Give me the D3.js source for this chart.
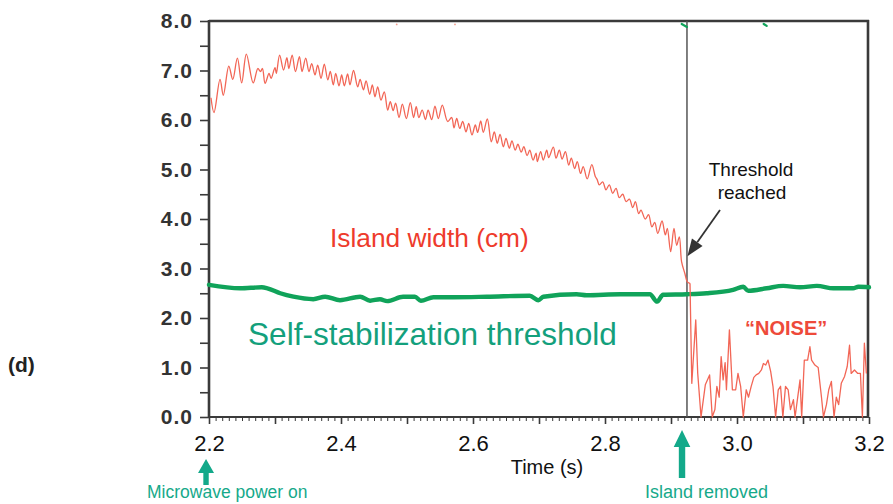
<!DOCTYPE html>
<html>
<head>
<meta charset="utf-8">
<script src="https://cdn.jsdelivr.net/npm/d3@7"></script>
<style>
  html, body { margin: 0; padding: 0; background: #fff; }
  svg { display: block; font-family: "Liberation Sans", Arial, Helvetica, sans-serif; }
</style>
</head>
<body>
<script>
// ---------- DATA ----------
// Island width (cm), oscillating part before the threshold is reached
const widthT = [2.203,2.2076,2.2167,2.2217,2.230,2.236,2.243,2.2495,2.2566,2.267,2.274,2.278,2.281,2.285,2.291,2.294,2.300,2.302,2.307,2.313,2.318,2.321,2.326,2.331,2.337,2.341,2.3465,2.3515,2.3556,2.3606,2.3647,2.3697,2.3747,2.380,2.3838,2.3883,2.392,2.397,2.401,2.405,2.410,2.4136,2.419,2.4253,2.429,2.434,2.438,2.4435,2.4475,2.4515,2.4556,2.4606,2.4656,2.4707,2.4747,2.479,2.4828,2.488,2.493,2.499,2.505,2.510,2.514,2.518,2.523,2.528,2.532,2.5374,2.5424,2.5475,2.5535,2.5616,2.5677,2.5712,2.5753,2.580,2.5844,2.5894,2.5935,2.5985,2.6035,2.607,2.6117,2.6156,2.6217,2.6277,2.6323,2.6368,2.641,2.646,2.650,2.655,2.659,2.664,2.668,2.673,2.677,2.682,2.686,2.691,2.6955,2.6975,2.7025,2.7065,2.7117,2.7147,2.7217,2.7258,2.7308,2.735,2.740,2.745,2.749,2.754,2.758,2.763,2.767,2.773,2.780,2.7853,2.788,2.7914,2.7965,2.8015,2.8065,2.8117,2.8167,2.8217,2.8268,2.832,2.837,2.842,2.846,2.851,2.8545,2.861,2.866,2.871,2.8753,2.880,2.8864,2.8914,2.8944,2.8995,2.9045,2.9086,2.9126,2.916,2.921,2.9247,2.9288];
const widthV = [6.45,6.15,6.82,6.50,7.09,6.82,7.25,6.75,7.33,6.75,7.04,6.98,7.04,6.74,6.94,6.84,7.06,6.94,7.31,7.01,7.26,7.04,7.31,6.98,7.28,6.98,7.25,6.98,7.14,6.91,7.11,6.84,7.13,6.81,6.98,6.71,6.94,6.69,6.91,6.69,6.93,6.71,7.00,6.67,6.82,6.61,6.79,6.52,6.71,6.47,6.67,6.40,6.57,6.20,6.37,6.19,6.34,6.05,6.32,6.03,6.35,6.05,6.27,6.05,6.20,6.01,6.20,6.01,6.28,6.03,6.30,5.97,6.05,5.84,6.03,5.83,5.97,5.76,5.93,5.70,5.90,5.75,5.98,5.75,6.02,5.56,5.76,5.53,5.71,5.46,5.63,5.43,5.58,5.39,5.51,5.35,5.46,5.28,5.39,5.19,5.33,5.16,5.36,5.19,5.39,5.24,5.45,5.23,5.39,5.21,5.36,5.09,5.23,5.02,5.16,4.92,5.06,4.81,5.10,4.86,4.80,4.69,4.75,4.59,4.69,4.52,4.62,4.43,4.50,4.35,4.40,4.23,4.35,4.11,4.18,4.00,4.09,3.84,3.93,3.71,3.96,3.68,3.81,3.34,3.81,3.47,3.64,3.14,2.90,2.73,2.70];

// "Noise" after the island is removed
const noiseT = [2.9288,2.9315,2.9375,2.9405,2.9455,2.952,2.9585,2.9625,2.9665,2.9695,2.973,2.976,2.979,2.982,2.984,2.9885,2.993,2.998,3.0015,3.0055,3.0095,3.014,3.0175,3.0215,3.0255,3.029,3.033,3.037,3.040,3.0435,3.047,3.051,3.0545,3.0585,3.0625,3.066,3.0695,3.0735,3.0775,3.081,3.0855,3.088,3.092,3.0955,3.098,3.102,3.107,3.1105,3.113,3.118,3.123,3.128,3.131,3.1355,3.139,3.143,3.147,3.1505,3.154,3.158,3.163,3.167,3.1705,3.173,3.178,3.183,3.187,3.190,3.193,3.196];
const noiseV = [2.70,0.68,1.96,0.88,0.0,0.65,0.85,0.0,0.15,0.62,0.40,1.22,0.75,1.10,0.55,1.76,0.55,0.55,0.88,0.62,0.0,0.55,0.40,0.62,0.80,0.85,0.88,0.95,1.08,1.05,1.15,0.92,0.62,0.0,0.55,0.62,0.0,0.62,0.55,0.15,0.35,0.0,0.40,0.75,0.0,1.15,1.15,1.42,1.15,1.05,1.00,0.40,0.0,0.25,0.55,0.72,0.0,0.40,0.25,0.68,0.82,1.02,1.45,0.88,0.95,0.88,0.88,0.0,1.49,0.88];

// Self-stabilization threshold (cm)
const threshT = [2.200,2.247,2.280,2.2885,2.308,2.328,2.358,2.376,2.3985,2.429,2.444,2.459,2.470,2.494,2.512,2.521,2.540,2.570,2.621,2.686,2.699,2.7065,2.757,2.772,2.823,2.868,2.879,2.888,2.924,2.954,2.994,3.0095,3.017,3.045,3.070,3.0955,3.121,3.146,3.176,3.184,3.200];
const threshV = [2.67,2.60,2.62,2.60,2.50,2.43,2.38,2.43,2.36,2.43,2.35,2.38,2.34,2.43,2.43,2.35,2.42,2.42,2.43,2.45,2.36,2.43,2.48,2.46,2.48,2.48,2.33,2.47,2.48,2.50,2.57,2.63,2.55,2.60,2.65,2.62,2.65,2.60,2.60,2.63,2.62];

// small stray specks at the top of the frame
const greenSpecksT = [[2.9162,2.9242],[3.0405,3.045]];
const greenSpecksV = [[7.94,7.88],[7.94,7.90]];
const redSpecksT = [2.4844,2.5727];
const redSpecksV = [7.93,7.93];

// events
const removalTime = 2.9242;
const yTickValues = [0,0.5,1,1.5,2,2.5,3,3.5,4,4.5,5,5.5,6,6.5,7,7.5,8];
const xMajorTicks = [2.2,2.3,2.4,2.5,2.6,2.7,2.8,2.9,3.0,3.1,3.2];
const xLabelTicks = [2.2,2.4,2.6,2.8,3.0,3.2];

// ---------- CHART ----------
const W = 893, H = 504;
const svg = d3.select("body").append("svg").attr("width", W).attr("height", H);

const x = d3.scaleLinear().domain([2.2, 3.2]).range([209, 869]);
const y = d3.scaleLinear().domain([0, 8]).range([417, 21]);

const axisColor = "#3a3a3a";

// Y axis
const yAxis = d3.axisLeft(y)
  .tickValues(yTickValues)
  .tickSize(9)
  .tickPadding(7)
  .tickFormat(d => Number.isInteger(d) ? d.toFixed(1) : "");
const gy = svg.append("g").attr("transform", `translate(${x(2.2)},0)`).call(yAxis);
gy.select(".domain").remove();
gy.selectAll(".tick line").attr("stroke", axisColor).attr("stroke-width", 1.6);
gy.selectAll(".tick text").attr("fill", "#333").attr("font-size", 21).attr("font-weight", "bold")
  .style("letter-spacing", "1px")
  .attr("font-family", "'Liberation Sans', Arial, Helvetica, sans-serif");

// X axis – minor ticks
const minorTicks = d3.range(0, 101).map(i => 2.2 + i / 100);
const gxm = svg.append("g").attr("transform", `translate(0,${y(0)})`)
  .call(d3.axisBottom(x).tickValues(minorTicks).tickSize(4).tickFormat(""));
gxm.select(".domain").remove();
gxm.selectAll(".tick line").attr("stroke", axisColor).attr("stroke-width", 1);

// X axis – major ticks with labels
const gx = svg.append("g").attr("transform", `translate(0,${y(0)})`)
  .call(d3.axisBottom(x).tickValues(xMajorTicks).tickSize(7).tickPadding(11)
    .tickFormat(d => xLabelTicks.some(v => Math.abs(v - d) < 1e-6) ? d.toFixed(1) : ""));
gx.select(".domain").remove();
gx.selectAll(".tick line").attr("stroke", axisColor).attr("stroke-width", 1.6);
gx.selectAll(".tick text").attr("fill", "#111").attr("font-size", 22)
  .attr("font-family", "'Liberation Sans', Arial, Helvetica, sans-serif");

// Frame
const frame = svg.append("g").attr("stroke", axisColor).attr("fill", "none");
frame.append("line").attr("x1", x(2.2)).attr("x2", x(2.2)).attr("y1", y(8) - 1).attr("y2", y(0) + 1).attr("stroke-width", 2.6);
frame.append("line").attr("x1", x(2.2)).attr("x2", x(3.2)).attr("y1", y(0)).attr("y2", y(0)).attr("stroke-width", 2.2);
frame.append("line").attr("x1", x(2.2)).attr("x2", x(3.2)).attr("y1", y(8)).attr("y2", y(8)).attr("stroke-width", 2.6);
frame.append("line").attr("x1", x(3.2) - 1).attr("x2", x(3.2) - 1).attr("y1", y(8) - 1).attr("y2", y(0)).attr("stroke-width", 2.6);

// Vertical event line
svg.append("line")
  .attr("x1", x(removalTime)).attr("x2", x(removalTime))
  .attr("y1", y(8)).attr("y2", y(0))
  .attr("stroke", "#555").attr("stroke-width", 1.5);

// Threshold line
const threshData = threshT.map((t, i) => [t, threshV[i]]);
svg.append("path").datum(threshData)
  .attr("d", d3.line().x(d => x(d[0])).y(d => y(d[1])).curve(d3.curveMonotoneX))
  .attr("fill", "none").attr("stroke", "#10a35a").attr("stroke-width", 4.4)
  .attr("stroke-linejoin", "round").attr("stroke-linecap", "round");

// Island width line
const widthData = widthT.map((t, i) => [t, widthV[i]]);
svg.append("path").datum(widthData)
  .attr("d", d3.line().x(d => x(d[0])).y(d => y(d[1])).curve(d3.curveCatmullRom.alpha(0.5)))
  .attr("fill", "none").attr("stroke", "#f26656").attr("stroke-width", 1.3)
  .attr("stroke-linejoin", "round");

const noiseData = noiseT.map((t, i) => [t, noiseV[i]]);
svg.append("path").datum(noiseData)
  .attr("d", d3.line().x(d => x(d[0])).y(d => y(d[1])))
  .attr("fill", "none").attr("stroke", "#f26656").attr("stroke-width", 1.3)
  .attr("stroke-linejoin", "round");

// Specks
greenSpecksT.forEach((ts, i) => {
  svg.append("path").datum(ts.map((t, j) => [t, greenSpecksV[i][j]]))
    .attr("d", d3.line().x(d => x(d[0])).y(d => y(d[1])))
    .attr("fill", "none").attr("stroke", "#10a35a").attr("stroke-width", 2.2).attr("stroke-linecap", "round");
});
svg.selectAll(".rspeck").data(redSpecksT).join("circle")
  .attr("cx", d => x(d)).attr("cy", (d, i) => y(redSpecksV[i])).attr("r", 0.9).attr("fill", "#f4a090");

// Text labels
svg.append("text").attr("x", 330).attr("y", 247).text("Island width (cm)")
  .attr("font-size", 26.3).attr("fill", "#ee3b2c");
svg.append("text").attr("x", 248).attr("y", 345).text("Self-stabilization threshold")
  .attr("font-size", 31.6).attr("fill", "#13a07c");
svg.append("text").attr("x", 745).attr("y", 335).text("\u201CNOISE\u201D")
  .attr("font-size", 20).attr("font-weight", "bold").attr("fill", "#ee4a3a");
svg.append("text").attr("x", 751).attr("y", 176).attr("text-anchor", "middle").text("Threshold")
  .attr("font-size", 19).attr("fill", "#111");
svg.append("text").attr("x", 752).attr("y", 199).attr("text-anchor", "middle").text("reached")
  .attr("font-size", 19).attr("fill", "#111");
svg.append("text").attr("x", 547).attr("y", 474).attr("text-anchor", "middle").text("Time (s)")
  .attr("font-size", 20).attr("fill", "#111");
svg.append("text").attr("x", 8).attr("y", 372).text("(d)")
  .attr("font-size", 21).attr("font-weight", "bold").attr("fill", "#222");
svg.append("text").attr("x", 147).attr("y", 498).text("Microwave power on")
  .attr("font-size", 17.5).attr("fill", "#16a98a");
svg.append("text").attr("x", 645).attr("y", 498).text("Island removed")
  .attr("font-size", 18).attr("fill", "#16a98a");

// Annotation arrow (Threshold reached)
const ax1 = 720, ay1 = 210, ax2 = x(removalTime) + 0.5, ay2 = y(3.25);
const ang = Math.atan2(ay2 - ay1, ax2 - ax1);
const hl = 17, hw = 6.5;
const bx = ax2 - hl * Math.cos(ang), by = ay2 - hl * Math.sin(ang);
svg.append("line").attr("x1", ax1).attr("y1", ay1).attr("x2", bx).attr("y2", by)
  .attr("stroke", "#333").attr("stroke-width", 1.8);
svg.append("path")
  .attr("d", `M${ax2},${ay2}L${bx + hw * Math.sin(ang)},${by - hw * Math.cos(ang)}L${bx - hw * Math.sin(ang)},${by + hw * Math.cos(ang)}Z`)
  .attr("fill", "#333");

// Green event arrows
function upArrow(cx, tip, base, bottom, hw, sw) {
  svg.append("path")
    .attr("d", `M${cx},${tip}L${cx + hw},${base}L${cx + sw},${base}L${cx + sw},${bottom}L${cx - sw},${bottom}L${cx - sw},${base}L${cx - hw},${base}Z`)
    .attr("fill", "#13a98a");
}
upArrow(x(2.1955), 459, 473, 485, 8, 2.7);
upArrow(x(2.9167), 430, 447, 478, 8.3, 3.2);
</script>
</body>
</html>
